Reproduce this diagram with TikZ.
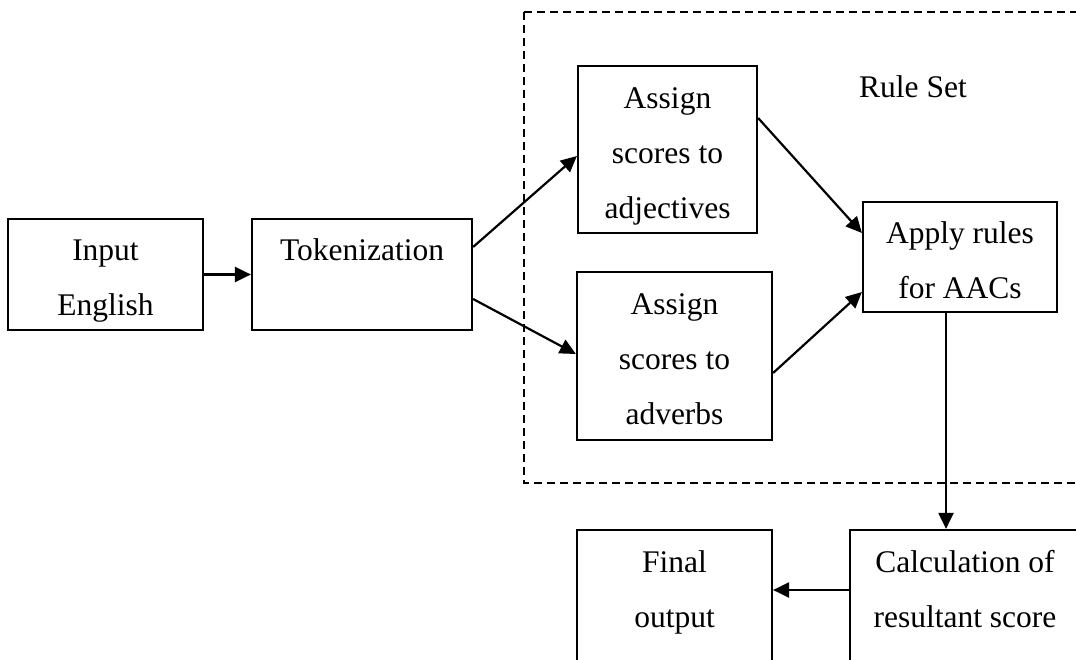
\documentclass[tikz,border=0pt]{standalone}
\usepackage{fontspec}
\setmainfont{Liberation Serif}
\usetikzlibrary{arrows.meta,positioning}
\newcommand{\toppad}{\rule{0pt}{27.5pt}}
\tikzset{
  %% Process boxes
  procbox/.style={
    rectangle, draw=black, line width=2.2pt, fill=white,
    align=center, inner sep=0pt, text depth=0pt,
    font=\fontsize{31.5}{55}\selectfont},
  %% Plain label
  plainlabel/.style={font=\fontsize{31.5}{55}\selectfont},
  %% Dashed frame of the rule set
  ruleframe/.style={draw=black, line width=1.8pt, dash pattern=on 8pt off 5pt},
  %% Arrows
  arrow/.style={-{Triangle[length=16pt,width=15pt]}, line width=2.2pt, black},
}
\begin{document}
\begin{tikzpicture}[x=1pt, y=-1pt]
  \clip (0,0) rectangle (1076,660);

  %% Rule set frame
  \draw[ruleframe] (524,12) rectangle (1110,483);
  \node[plainlabel] (ruleset) at (913,87) {Rule Set};

  \node[procbox, minimum width=195pt, minimum height=111pt] (inp)
        at (105.5,274.5) {\toppad Input\\English};
  \node[procbox, minimum width=220pt, minimum height=111pt] (tok)
        at (362,274.5) {\toppad Tokenization\\~};
  \node[procbox, minimum width=179pt, minimum height=167pt] (adj)
        at (667.5,149.5) {\toppad Assign\\scores to\\adjectives};
  \node[procbox, minimum width=195pt, minimum height=168pt] (adv)
        at (674.5,356) {\toppad Assign\\scores to\\adverbs};
  \node[procbox, minimum width=194pt, minimum height=110pt] (app)
        at (960,257) {\toppad Apply rules\\for AACs};
  \node[procbox, minimum width=230pt, minimum height=168pt] (calc)
        at (965,614) {\toppad Calculation of\\resultant score\\~};
  \node[procbox, minimum width=195pt, minimum height=168pt] (final)
        at (674.5,614) {\toppad Final\\output\\~};

  \draw[arrow] (inp.east) -- (tok.west);
  \draw[arrow] ([yshift=27.5pt]tok.east) -- ([yshift=-6.5pt]adj.west);
  \draw[arrow] ([yshift=-24.5pt]tok.east) -- ([yshift=2pt]adv.west);
  \draw[arrow] ([yshift=31.5pt]adj.east) -- ([yshift=24pt]app.west);
  \draw[arrow] ([yshift=-17pt]adv.east) -- ([yshift=-35pt]app.west);
  \draw[arrow] ([xshift=-14pt]app.south) -- ([xshift=-14pt]app.south |- calc.north);
  \draw[arrow] ([yshift=24pt]calc.west) -- ([yshift=24pt]final.east);
\end{tikzpicture}
\end{document}
